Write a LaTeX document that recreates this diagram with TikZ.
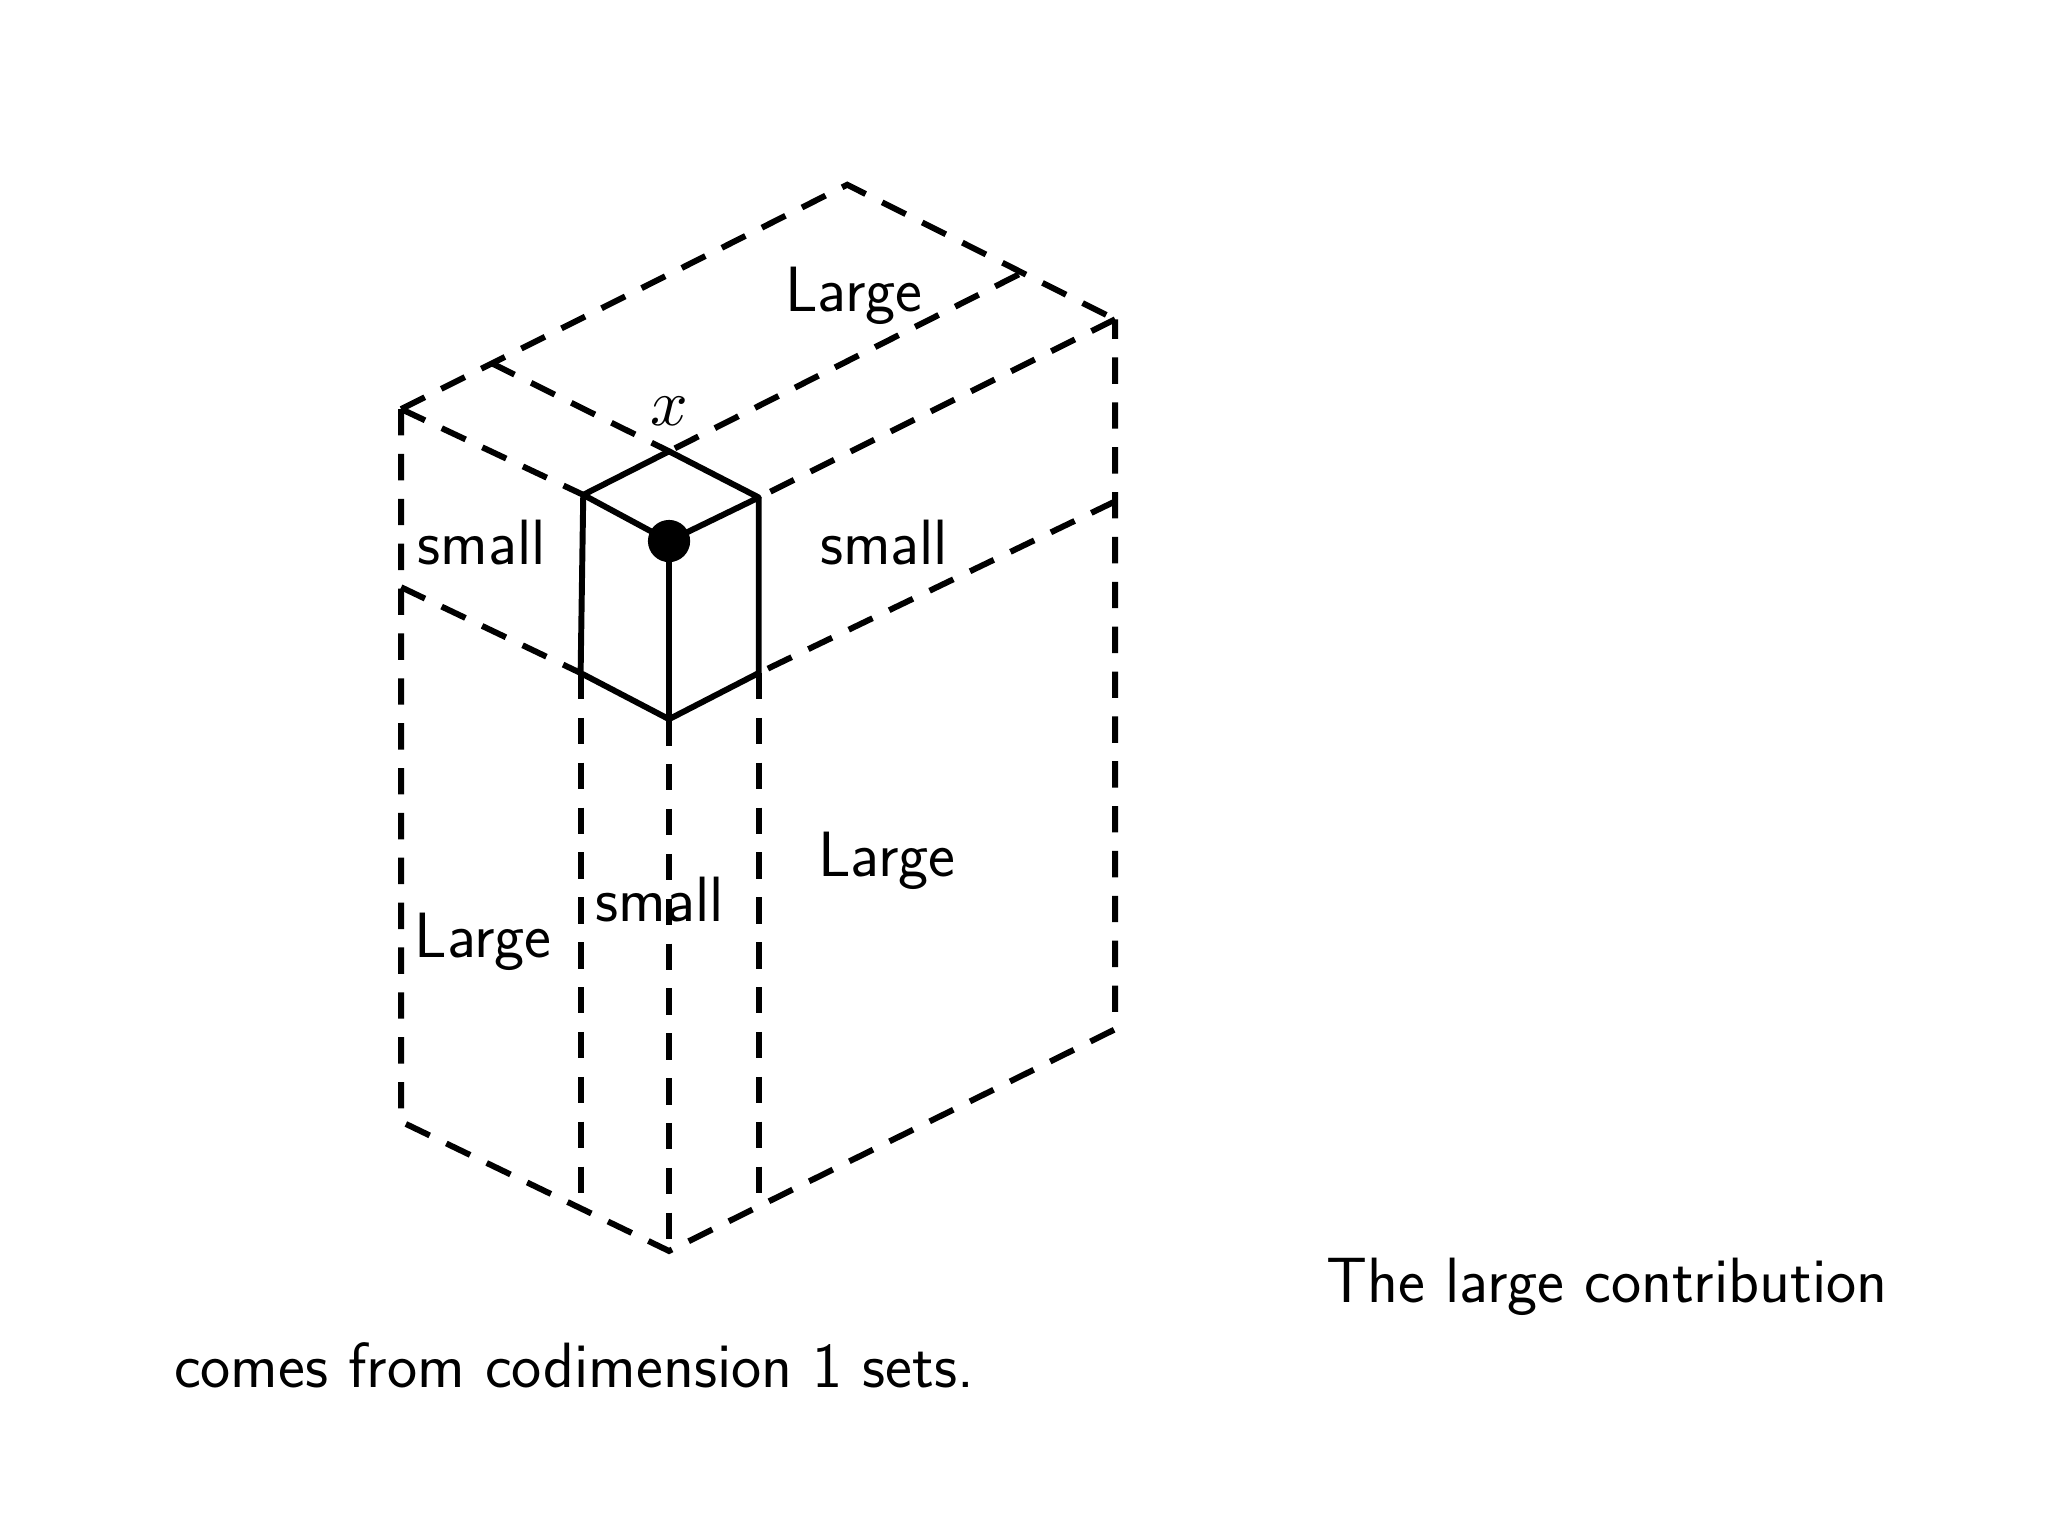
\documentclass[tikz,border=0pt]{standalone}
\begin{document}
\begin{tikzpicture}[x=1pt,y=-1pt,
 dsh/.style={line width=4.5pt,dash pattern=on 20pt off 14pt},
 sol/.style={line width=4.5pt,line join=round},
 lbl/.style={font=\fontsize{48.5}{58}\selectfont\sffamily}]
\useasboundingbox (0,0) rectangle (1552,1164);
\begin{scope}[shift={(-3,0)}]
\coordinate (B) at (645,140); \coordinate (L) at (307,310);
\coordinate (R) at (848,242); \coordinate (F) at (510,342);
\coordinate (LB) at (307,850); \coordinate (FB) at (510,948); \coordinate (RB) at (848,780);
\coordinate (t1) at (375,275); \coordinate (t2) at (775,208);
\coordinate (cl) at (445,375); \coordinate (cr) at (578,377); \coordinate (cc) at (510,410);
\coordinate (cl2) at (443,510); \coordinate (cr2) at (578,510); \coordinate (cc2) at (510,545);
\coordinate (l2) at (307,445); \coordinate (r2) at (848,380);
\coordinate (lb2) at (443,910); \coordinate (rb2) at (578,915);
\draw[dsh] (L)--(B)--(R);
\draw[dsh] (t1)--(F); \draw[dsh] (t2)--(F);
\draw[dsh] (L)--(cl); \draw[dsh] (R)--(cr);
\draw[dsh] (l2)--(cl2); \draw[dsh] (r2)--(cr2);
\draw[dsh] (L)--(LB)--(FB)--(RB)--(R);
\draw[dsh] (cl2)--(lb2); \draw[dsh] (cc2)--(FB); \draw[dsh] (cr2)--(rb2);
\draw[sol] (F)--(cl)--(cc)--(cr)--cycle;
\draw[sol] (cl)--(cl2)--(cc2)--(cr2)--(cr); \draw[sol] (cc)--(cc2);
\fill (cc) circle (16);
\node[lbl] (n1) at (650,224) {Large};
\node[lbl] (n2) at (368,411) {small};
\node[lbl] (n3) at (673,411) {small};
\node[lbl] (n4) at (675,652) {Large};
\node[lbl] (n5) at (503,682) {small};
\node[lbl] (n6) at (369,714) {Large};
\node[scale=5] (nx) at (510,312) {$x$};
\end{scope}
\node[lbl] (t) at (1218,975) {The large contribution};
\node[lbl] (u) at (435,1035) {comes from codimension 1 sets.};
\end{tikzpicture}
\end{document}
